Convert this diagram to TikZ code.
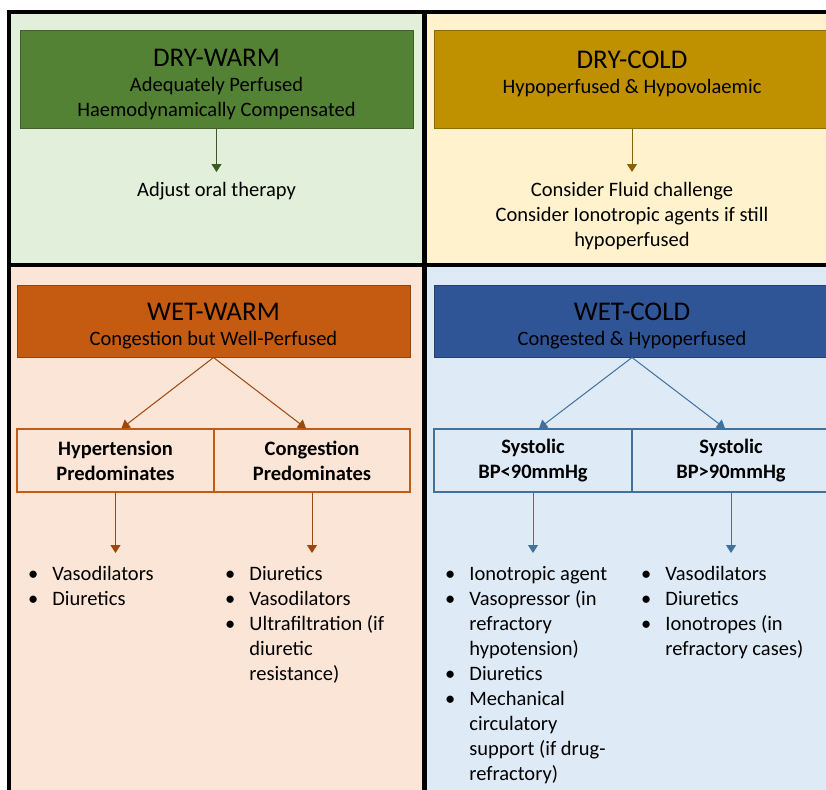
\documentclass[tikz,border=0pt]{standalone}
\usepackage{fontspec}
\setmainfont{Carlito}
\usetikzlibrary{arrows.meta}
\definecolor{dwg}{HTML}{548235}
\definecolor{dcg}{HTML}{BF9000}
\definecolor{wwo}{HTML}{C55A11}
\definecolor{wcb}{HTML}{2F5597}
\definecolor{dwbg}{HTML}{E2EFDA}
\definecolor{dcbg}{HTML}{FFF2CC}
\definecolor{wwbg}{HTML}{FBE5D6}
\definecolor{wcbg}{HTML}{DEEBF7}
\definecolor{wwline}{HTML}{9C470D}
\definecolor{wcline}{HTML}{41719C}
\newcommand{\bodyfont}{\fontsize{20.5}{25}\selectfont}
\newcommand{\titlefont}{\fontsize{27}{30}\selectfont\rule{0pt}{27.5pt}}

\begin{document}
\begin{tikzpicture}[x=1pt,y=-1pt,
    head/.style={draw=#1!75!black,fill=#1,line width=1pt,minimum width=393pt,inner sep=0pt,align=center,font=\bodyfont},
    part/.style={draw=#1,line width=1.2pt,minimum height=63pt,inner sep=0pt,align=center,font=\bodyfont\bfseries},
    note/.style={anchor=north,align=center,inner xsep=0pt,inner ysep=10pt,font=\bodyfont},
    lst/.style={anchor=north west,inner xsep=0pt,inner ysep=10pt,font=\bodyfont},
    arr/.style={draw=#1,line width=1pt,-{Triangle[width=10pt,length=8pt]}}]
    \useasboundingbox (0,0) rectangle (826,789);
    \clip (0,0) rectangle (826,789);
    \fill[dwbg](9,12) rectangle (424,265);
    \fill[dcbg](424,12) rectangle (840,265);
    \fill[wwbg](9,265) rectangle (424,800);
    \fill[wcbg](424,265) rectangle (840,800);
    \draw[line width=4.5pt](9,12) rectangle (840,800);
    \draw[line width=5pt](424,12)--(424,800);
    \draw[line width=4.5pt](9,265)--(840,265);
    \node[head=dwg,minimum height=97pt] (DW) at (216.5,79.5) {{\titlefont DRY-WARM}\\Adequately Perfused\\Haemodynamically Compensated};
    \node[head=dcg,minimum height=97pt,minimum width=396pt] (DC) at (632,79.5) {{\titlefont DRY-COLD}\\Hypoperfused \& Hypovolaemic\\~};
    \node[note] (DWn) at (216.5,172) {Adjust oral therapy};
    \node[note] (DCn) at (632,172) {Consider Fluid challenge\\Consider Ionotropic agents if still\\hypoperfused};
    \draw[arr=dwg!70!black](DW.south)--(DWn.north);
    \draw[arr=dcg!70!black](DC.south)--(DCn.north);
    \node[head=wwo,minimum height=72pt] (WW) at (213.5,321) {{\titlefont WET-WARM}\\Congestion but Well-Perfused};
    \node[head=wcb,minimum height=72pt,minimum width=396pt] (WC) at (632,321) {{\titlefont WET-COLD}\\Congested \& Hypoperfused};
    \node[part=wwo,minimum width=197pt] (HT) at (115.5,460.5) {Hypertension\\Predominates};
    \node[part=wwo,minimum width=196pt] (CG) at (312,460.5) {Congestion\\Predominates};
    \node[part=wcline,minimum width=198pt] (SL) at (533,460.5) {Systolic\\BP<90mmHg};
    \node[part=wcline,minimum width=198pt] (SH) at (731,460.5) {Systolic\\BP>90mmHg};
    \draw[arr=wwline](WW.south)--([xshift=6pt]HT.north);
    \draw[arr=wwline](WW.south)--([xshift=-6pt]CG.north);
    \draw[arr=wcline](WC.south)--([xshift=6pt]SL.north);
    \draw[arr=wcline](WC.south)--([xshift=-6pt]SH.north);
    \node[lst] (HTl) at (28,553) {\begin{tabular}{@{}l@{\hspace{14pt}}l@{}}
      \textbullet & Vasodilators\\ \textbullet & Diuretics\end{tabular}};
    \node[lst] (CGl) at (225,553) {\begin{tabular}{@{}l@{\hspace{14pt}}l@{}}
      \textbullet & Diuretics\\ \textbullet & Vasodilators\\ \textbullet & Ultrafiltration (if\\ & diuretic\\ & resistance)\end{tabular}};
    \node[lst] (SLl) at (445,553) {\begin{tabular}{@{}l@{\hspace{14pt}}l@{}}
      \textbullet & Ionotropic agent\\ \textbullet & Vasopressor (in\\ & refractory\\ & hypotension)\\
      \textbullet & Diuretics\\ \textbullet & Mechanical\\ & circulatory\\ & support (if drug-\\ & refractory)\end{tabular}};
    \node[lst] (SHl) at (641,553) {\begin{tabular}{@{}l@{\hspace{14pt}}l@{}}
      \textbullet & Vasodilators\\ \textbullet & Diuretics\\ \textbullet & Ionotropes (in\\ & refractory cases)\end{tabular}};
    \draw[arr=wwline](HT.south)--(HT.south|-HTl.north);
    \draw[arr=wwline](CG.south)--(CG.south|-CGl.north);
    \draw[arr=wcline](SL.south)--(SL.south|-SLl.north);
    \draw[arr=wcline](SH.south)--(SH.south|-SHl.north);
\end{tikzpicture}
\end{document}
